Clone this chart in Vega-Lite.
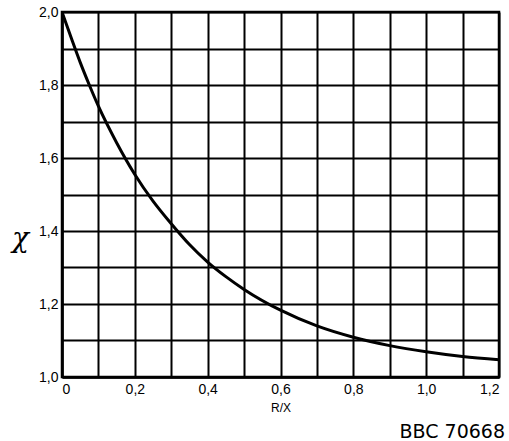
{
  "$schema": "https://vega.github.io/schema/vega-lite/v6.json",
  "width": 437,
  "height": 365,
  "autosize": "none",
  "padding": {"left": 62, "top": 12, "right": 10, "bottom": 64},
  "background": "white",
  "data": {"values": [
    {"rx": 0.0, "k": 2.0},
    {"rx": 0.025, "k": 1.93},
    {"rx": 0.05, "k": 1.862},
    {"rx": 0.075, "k": 1.8},
    {"rx": 0.1, "k": 1.742},
    {"rx": 0.15, "k": 1.642},
    {"rx": 0.2, "k": 1.555},
    {"rx": 0.25, "k": 1.482},
    {"rx": 0.3, "k": 1.42},
    {"rx": 0.35, "k": 1.363},
    {"rx": 0.4, "k": 1.315},
    {"rx": 0.45, "k": 1.275},
    {"rx": 0.5, "k": 1.24},
    {"rx": 0.6, "k": 1.183},
    {"rx": 0.7, "k": 1.14},
    {"rx": 0.8, "k": 1.109},
    {"rx": 0.9, "k": 1.086},
    {"rx": 1.0, "k": 1.069},
    {"rx": 1.1, "k": 1.056},
    {"rx": 1.2, "k": 1.047}
  ]},
  "title": {"text": "BBC 70668", "orient": "bottom", "anchor": "end", "offset": 10, "fontSize": 19, "font": "DejaVu Sans", "fontWeight": "normal", "color": "black", "dx": 6},
  "mark": {"type": "line", "color": "black", "strokeWidth": 3, "interpolate": "monotone", "clip": true},
  "encoding": {
    "x": {"field": "rx", "type": "quantitative",
      "scale": {"domain": [0, 1.2], "nice": false, "zero": false},
      "axis": {"title": "R/X", "values": [0,0.1,0.2,0.3,0.4,0.5,0.6,0.7,0.8,0.9,1.0,1.1,1.2],
        "labelExpr": "round(datum.value*10) % 2 == 0 ? (datum.value == 0 ? '0' : replace(format(datum.value, '.1f'), '.', ',')) : ''",
        "grid": true, "gridColor": "black", "gridWidth": 2, "gridOpacity": 1,
        "ticks": false, "domainColor": "black", "domainWidth": 2.5,
        "labelFontSize": 14, "labelFont": "Liberation Sans", "labelColor": "black", "labelPadding": 5,
        "titleFontSize": 12, "titleFont": "Liberation Sans", "titleFontWeight": "normal", "titleColor": "black", "titlePadding": 6}},
    "y": {"field": "k", "type": "quantitative",
      "scale": {"domain": [1.0, 2.0], "nice": false, "zero": false},
      "axis": {"title": "χ", "values": [1.0,1.1,1.2,1.3,1.4,1.5,1.6,1.7,1.8,1.9,2.0],
        "labelExpr": "round(datum.value*10) % 2 == 0 ? replace(format(datum.value, '.1f'), '.', ',') : ''",
        "grid": true, "gridColor": "black", "gridWidth": 2, "gridOpacity": 1,
        "ticks": false, "domainColor": "black", "domainWidth": 2.5,
        "labelFontSize": 14, "labelFont": "Liberation Sans", "labelColor": "black", "labelPadding": 4,
        "titleAngle": 0, "titleX": -42, "titleY": 226, "titleBaseline": "middle", "titleAlign": "center",
        "titleFontSize": 28, "titleFont": "DejaVu Serif", "titleFontStyle": "italic", "titleFontWeight": "normal", "titleColor": "black"}}
  },
  "config": {"view": {"stroke": "black", "strokeWidth": 2.5}}
}
